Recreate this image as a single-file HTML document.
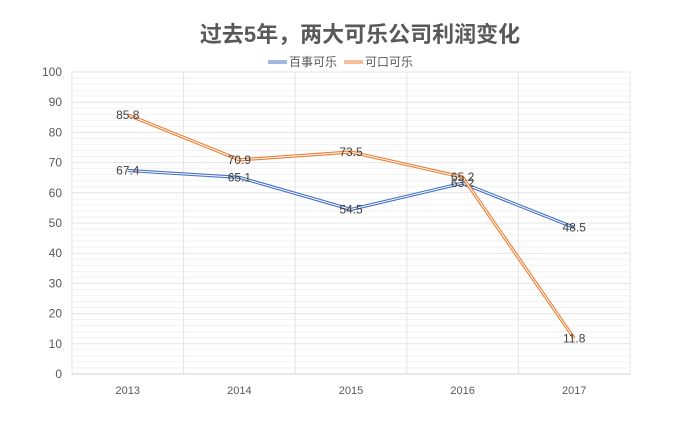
<!DOCTYPE html>
<html><head><meta charset="utf-8"><style>
body{margin:0;background:#fff;}
svg text{font-family:"Liberation Sans","Noto Sans CJK SC",sans-serif;}
</style></head><body>
<svg width="700" height="421" xmlns="http://www.w3.org/2000/svg">
<text x="360" y="42" text-anchor="middle" font-size="22" font-weight="bold" fill="#595959">过去5年，两大可乐公司利润变化</text>
<g>
<g>
<line x1="268" y1="62" x2="287" y2="62" stroke="#4472c4" stroke-width="3"/><line x1="268" y1="62" x2="287" y2="62" stroke="#fff" stroke-width="1"/>
<text x="289" y="66" font-size="12" fill="#595959">百事可乐</text></g>
<g>
<line x1="344" y1="62" x2="363" y2="62" stroke="#ed7d31" stroke-width="3"/><line x1="344" y1="62" x2="363" y2="62" stroke="#fff" stroke-width="1"/>
<text x="365" y="66" font-size="12" fill="#595959">可口可乐</text></g>
</g>
<g id="grid"></g>
<g id="axes"></g>
<g id="series"></g>
</svg>
<script>
const categories=["2013","2014","2015","2016","2017"];
const pepsi=[67.4,65.1,54.5,63.2,48.5];
const coke=[85.8,70.9,73.5,65.2,11.8];
const yTicks=[0,10,20,30,40,50,60,70,80,90,100];
const L=72,R=630,T=72,B=374,yMax=100;
const band=(R-L)/categories.length;
const xs=i=>L+band*(i+0.5);
const ys=v=>B-(v/yMax)*(B-T);
const NS="http://www.w3.org/2000/svg";
function mk(tag,attrs,parent){const e=document.createElementNS(NS,tag);for(const k in attrs)e.setAttribute(k,attrs[k]);parent.appendChild(e);return e;}
const grid=document.getElementById('grid'),axes=document.getElementById('axes'),series=document.getElementById('series');
for(let v=0;v<=yMax;v+=2){
  if(v%10===0)continue;
  const l=mk('line',{x1:L,x2:R,y1:ys(v),y2:ys(v),stroke:'#f2f2f2','stroke-width':1},grid);
  
  
}
yTicks.forEach(v=>{
  if(v>0){const l=mk('line',{x1:L,x2:R,y1:ys(v),y2:ys(v),stroke:'#e4e4e4','stroke-width':1},grid);
  
  }
  const t=mk('text',{x:L-10,y:ys(v)+4,'text-anchor':'end','font-size':12,fill:'#595959'},axes);
  t.textContent=v;
  
  
});
for(let i=0;i<=categories.length;i++){
  const x=L+band*i;
  const l=mk('line',{x1:x,x2:x,y1:T,y2:B,stroke:'#e4e4e4','stroke-width':1},grid);
  
  
}
const ax=mk('line',{x1:L,x2:R,y1:B,y2:B,stroke:'#d0d0d0','stroke-width':1},axes);


categories.forEach((c,i)=>{
  const t=mk('text',{x:xs(i),y:B+20,'text-anchor':'middle','font-size':11,fill:'#595959'},axes);
  t.textContent=c;
  
  
});
function draw(data,color,name){
  const pts=data.map((v,i)=>xs(i)+','+ys(v)).join(' ');
  const g=mk('g',{},series);
  
  
  mk('polyline',{points:pts,fill:'none',stroke:color,'stroke-width':3.2,'stroke-linejoin':'round'},g);
  mk('polyline',{points:pts,fill:'none',stroke:'#fff','stroke-width':1,'stroke-linejoin':'round'},g);
  data.forEach((v,i)=>{
    const t=mk('text',{x:xs(i),y:ys(v)+4,'text-anchor':'middle','font-size':12,fill:'#404040'},g);
    t.textContent=v;
    
    
  });
}
draw(pepsi,'#4472c4','pepsi');
draw(coke,'#ed7d31','coke');
</script>
</body></html>
